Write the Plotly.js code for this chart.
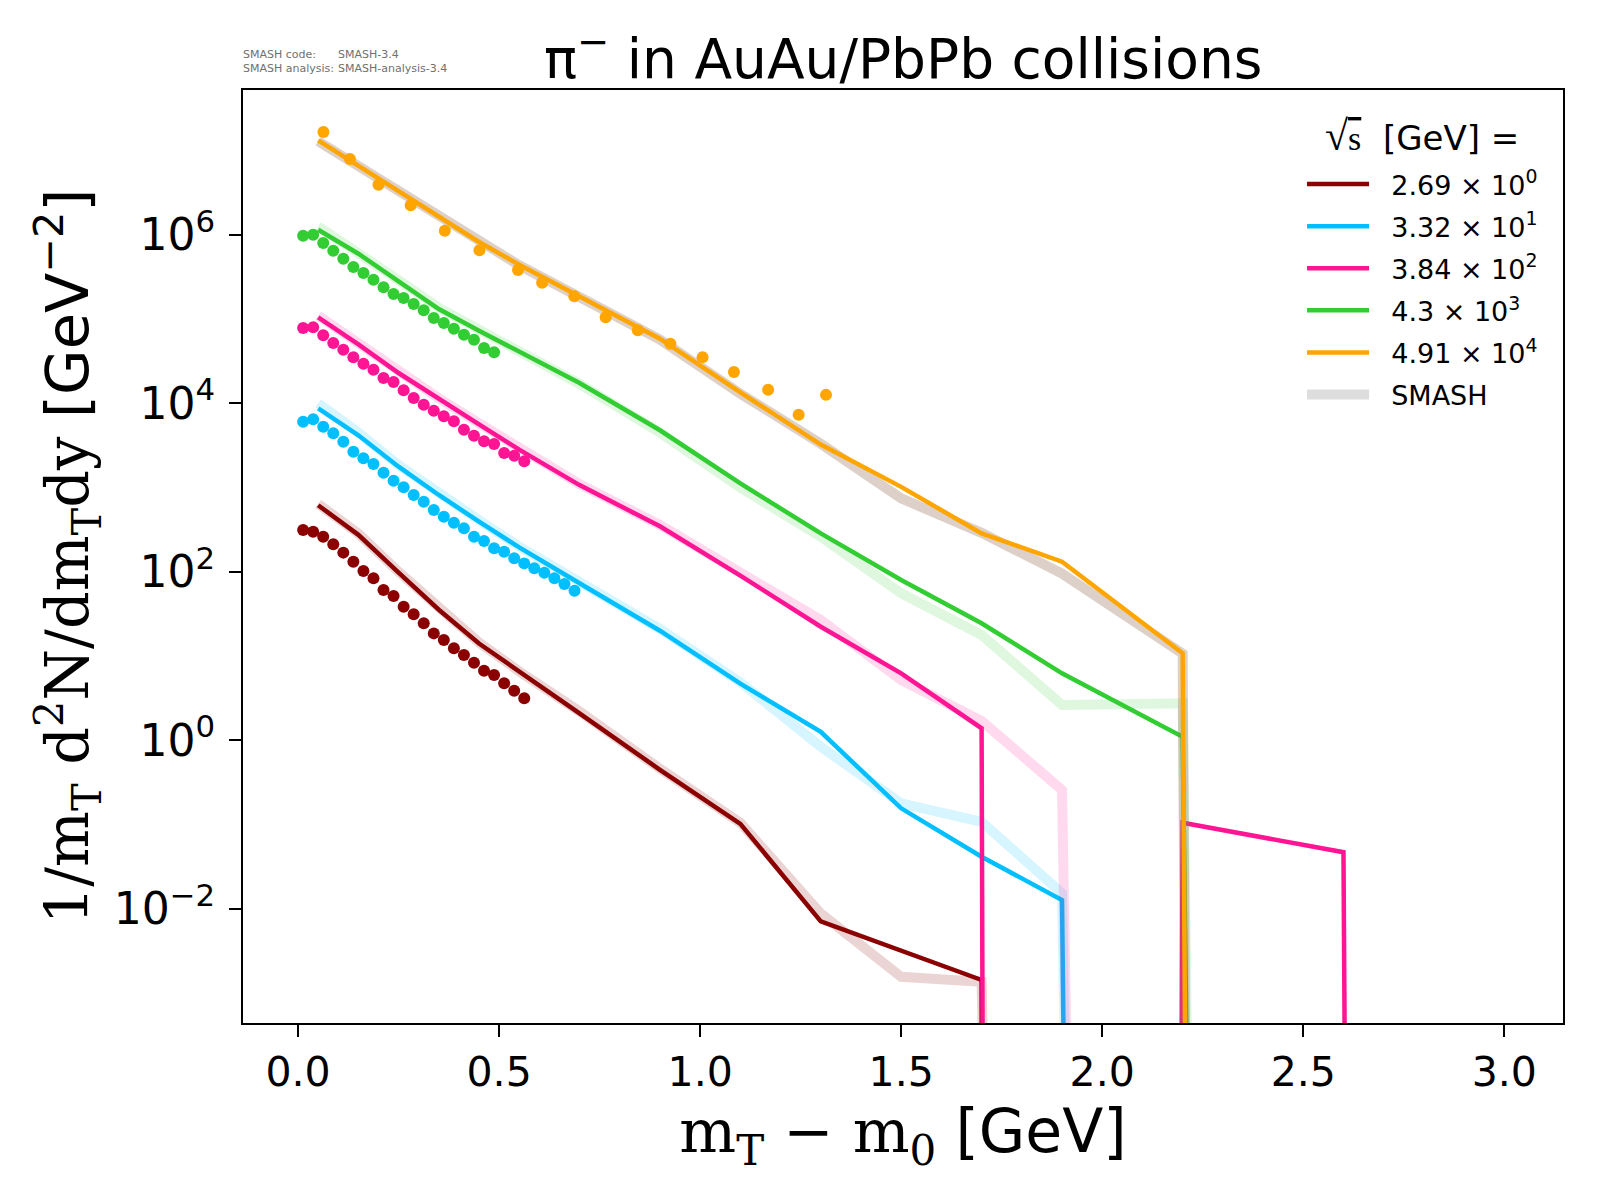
<!DOCTYPE html>
<html>
<head>
<meta charset="utf-8">
<script src="https://cdn.plot.ly/plotly-3.0.1.min.js"></script>
<style>html,body{margin:0;padding:0;background:#fff;}#chart{width:1600px;height:1200px;}</style>
</head>
<body>
<div id="chart"></div>
<script>
// ---------------- data ----------------
const energyLabels = ['2.69 × 10<sup>0</sup>', '3.32 × 10<sup>1</sup>', '3.84 × 10<sup>2</sup>', '4.3 × 10<sup>3</sup>', '4.91 × 10<sup>4</sup>'];
const colors = ['#8B0000', '#00BFFF', '#FF1493', '#32CD32', '#FFA500'];
const bandColors = ['rgba(139,0,0,0.17)', 'rgba(0,191,255,0.16)', 'rgba(255,20,147,0.16)', 'rgba(50,205,50,0.16)', 'rgba(150,110,85,0.32)'];

// SMASH bin centres (m_T - m_0, GeV)
const xSmash = [0.05, 0.15, 0.25, 0.35, 0.45, 0.55, 0.7, 0.9, 1.1, 1.3, 1.5, 1.7, 1.9, 2.2, 2.6, 3.0];

// SMASH (current) curves
const line269 = [617, 275, 97.7, 35.5, 14.1, 6.61, 2.09, 0.447, 0.102, 0.00708, 0.00316, 0.00143, 0, 0, 0, 0];
const line332 = [8710, 4170, 1770, 817, 394, 195, 73.1, 20.0, 4.72, 1.26, 0.156, 0.0415, 0.0127, 0, 0, 0];
const line384 = [104700, 50100, 22900, 11200, 5620, 2820, 1070, 347, 90.2, 22.3, 6.24, 1.39, 0, 0.105, 0.047, 0];
const line4300 = [1148000, 597000, 281000, 131500, 72800, 41400, 17400, 4790, 1120, 286, 80, 24.5, 6.24, 1.10, 0, 0];
const line49100 = [13240000, 6610000, 3310000, 1660000, 822000, 442000, 186000, 58500, 13500, 3240, 1020, 286, 132, 10.8, 0, 0];

// SMASH reference bands
const band269 = [640, 285, 100, 37, 14.5, 6.6, 2.2, 0.46, 0.105, 0.0088, 0.00156, 0.00136, 0, 0, 0, 0];
const band332 = [10000, 4500, 1850, 850, 410, 200, 76, 21, 4.9, 0.84, 0.179, 0.108, 0.0153, 0, 0, 0];
const band384 = [110000, 52000, 23500, 11500, 5800, 2900, 1100, 360, 95, 26.8, 5.2, 1.7, 0.257, 0, 0, 0];
const band4300 = [1260000, 620000, 290000, 136000, 74000, 41000, 17000, 4500, 1000, 261, 55.6, 17.8, 2.62, 2.75, 0, 0];
const band49100 = [12900000, 6500000, 3250000, 1640000, 810000, 435000, 183000, 57000, 13000, 3310, 745, 290, 95.5, 10.7, 0, 0];

// experimental data
const xData269 = [0.0125,0.0375,0.0625,0.0875,0.1125,0.1375,0.1625,0.1875,0.2125,0.2375,0.2625,0.2875,0.3125,0.3375,0.3625,0.3875,0.4125,0.4375,0.4625,0.4875,0.5125,0.5375,0.5625];
const yData269 = [313,299,261,212,169,132,102,83.8,60.8,51.6,38.5,31.3,24.5,18.6,15.5,12.4,10.3,8.34,6.70,5.96,4.75,3.88,3.15];
const xData332 = [0.0125,0.0375,0.0625,0.0875,0.1125,0.1375,0.1625,0.1875,0.2125,0.2375,0.2625,0.2875,0.3125,0.3375,0.3625,0.3875,0.4125,0.4375,0.4625,0.4875,0.5125,0.5375,0.5625,0.5875,0.6125,0.6375,0.6625,0.6875];
const yData332 = [6053,6457,5272,4406,3499,2667,2223,1905,1500,1205,1007,817,679,542,451,383,328,261,232,190,173,145,126,110,97.5,83.8,71.6,59.7];
const xData384 = [0.0125,0.0375,0.0625,0.0875,0.1125,0.1375,0.1625,0.1875,0.2125,0.2375,0.2625,0.2875,0.3125,0.3375,0.3625,0.3875,0.4125,0.4375,0.4625,0.4875,0.5125,0.5375,0.5625];
const yData384 = [78300,79800,64100,52000,43300,35200,29500,25100,19950,17900,14300,11600,9620,8170,7010,6110,4860,4130,3540,3290,2570,2390,2050];
const xData4300 = [0.0125,0.0375,0.0625,0.0875,0.1125,0.1375,0.1625,0.1875,0.2125,0.2375,0.2625,0.2875,0.3125,0.3375,0.3625,0.3875,0.4125,0.4375,0.4625,0.4875];
const yData4300 = [975000,1000000,800000,647000,520000,415000,352000,293000,238000,198000,178000,151000,127000,103000,89700,76700,65200,56900,45300,40300];
const xData49100 = [0.063,0.129,0.2,0.28,0.365,0.451,0.547,0.607,0.687,0.765,0.845,0.926,1.006,1.084,1.169,1.245,1.313];
const yData49100 = [16600000,7940000,3940000,2240000,1120000,655000,382000,270000,186000,105000,73500,50900,35200,23600,14500,7330,12600];

const xTickVals = [0, 0.5, 1.0, 1.5, 2.0, 2.5, 3.0];
const xTickText = ['0.0', '0.5', '1.0', '1.5', '2.0', '2.5', '3.0'];
const yTickVals = [1e-2, 1, 1e2, 1e4, 1e6];
const yTickText = ['10<sup>−2</sup>', '10<sup>0</sup>', '10<sup>2</sup>', '10<sup>4</sup>', '10<sup>6</sup>'];

// ---------------- build ----------------
// zero-valued bins are clipped far below the log axis (as a log plot does), giving vertical drops
const clip = v => (v > 0 ? v : 1e-300);

const lines = [line269, line332, line384, line4300, line49100];
const bands = [band269, band332, band384, band4300, band49100];
const dataX = [xData269, xData332, xData384, xData4300, xData49100];
const dataY = [yData269, yData332, yData384, yData4300, yData49100];

const pad = '&nbsp;&nbsp;';
const traces = [];
for (let i = 0; i < 5; i++) {
  traces.push({
    x: xSmash, y: bands[i].map(clip), type: 'scatter', mode: 'lines',
    line: {color: bandColors[i], width: 10}, showlegend: false, hoverinfo: 'skip'
  });
  traces.push({
    x: xSmash, y: lines[i].map(clip), type: 'scatter', mode: 'lines',
    line: {color: colors[i], width: 4.5}, name: pad + energyLabels[i],
    legendgroup: 'g' + i, legendrank: i + 1, showlegend: true
  });
  traces.push({
    x: dataX[i], y: dataY[i], type: 'scatter', mode: 'markers',
    marker: {color: colors[i], size: 12}, showlegend: false
  });
}
traces.push({
  x: [null], y: [null], type: 'scatter', mode: 'lines',
  line: {color: '#dddddd', width: 12}, name: pad + 'SMASH',
  legendgroup: 'g5', legendrank: 6, showlegend: true
});

const serif = "font-family:'DejaVu Serif',serif";
const layout = {
  width: 1600, height: 1200,
  paper_bgcolor: '#ffffff', plot_bgcolor: '#ffffff',
  font: {family: 'DejaVu Sans, sans-serif', color: '#000000', size: 41},
  margin: {l: 243, r: 37, t: 90, b: 177},
  title: {
    text: 'π<sup>−</sup> in AuAu/PbPb collisions',
    font: {size: 55, family: 'DejaVu Sans, sans-serif'},
    x: 0.5645, xanchor: 'center', xref: 'container',
    y: 1 - 59 / 1200, yanchor: 'middle', yref: 'container'
  },
  xaxis: {
    range: [-0.137, 3.146], tickvals: xTickVals, ticktext: xTickText,
    ticks: 'outside', ticklen: 12, tickwidth: 2, tickcolor: '#000',
    showline: true, mirror: true, linewidth: 2, linecolor: '#000',
    showgrid: false, zeroline: false,
    tickfont: {size: 41},
    title: {
      text: '<span style="' + serif + '">m<sub>T</sub> − m<sub>0</sub></span> [GeV]',
      font: {size: 60}, standoff: 4
    }
  },
  yaxis: {
    type: 'log', range: [-3.355, 7.719], tickvals: yTickVals, ticktext: yTickText,
    ticks: 'outside', ticklen: 12, tickwidth: 2, tickcolor: '#000',
    showline: true, mirror: true, linewidth: 2, linecolor: '#000',
    showgrid: false, zeroline: false, ticklabelstandoff: 5,
    tickfont: {size: 44},
    title: {
      text: '<span style="' + serif + '">1/m<sub>T</sub> d<sup>2</sup>N/dm<sub>T</sub>dy</span> [GeV<sup>−2</sup>]',
      font: {size: 59}, standoff: 6
    }
  },
  legend: {
    x: 0.8023, y: (1023 - 160) / 933, xanchor: 'left', yanchor: 'top',
    bgcolor: 'rgba(0,0,0,0)', borderwidth: 0,
    font: {size: 27}, itemwidth: 62, tracegroupgap: 4
  },
  annotations: [
    {text: '<span style="font-family:\'Liberation Serif\',serif;font-size:42px">√</span><span style="font-family:\'Liberation Serif\',serif;text-decoration:overline">s</span>&nbsp;&nbsp;[GeV] =',
     xref: 'paper', yref: 'paper', x: (1323 - 243) / 1320, y: (1023 - 136) / 933,
     xanchor: 'left', yanchor: 'middle', align: 'left', showarrow: false,
     font: {size: 34, color: '#000000'}},
    {text: 'SMASH code:<br>SMASH analysis:', xref: 'paper', yref: 'paper', x: 0, y: 1 + 13 / 933,
     xanchor: 'left', yanchor: 'bottom', align: 'left', showarrow: false, xshift: -2,
     font: {size: 11, color: '#707070'}},
    {text: 'SMASH-3.4<br>SMASH-analysis-3.4', xref: 'paper', yref: 'paper', x: 95 / 1320, y: 1 + 13 / 933,
     xanchor: 'left', yanchor: 'bottom', align: 'left', showarrow: false, xshift: -2,
     font: {size: 11, color: '#707070'}}
  ],
  showlegend: true
};

Plotly.newPlot('chart', traces, layout, {displayModeBar: false, staticPlot: true});
</script>
</body>
</html>
